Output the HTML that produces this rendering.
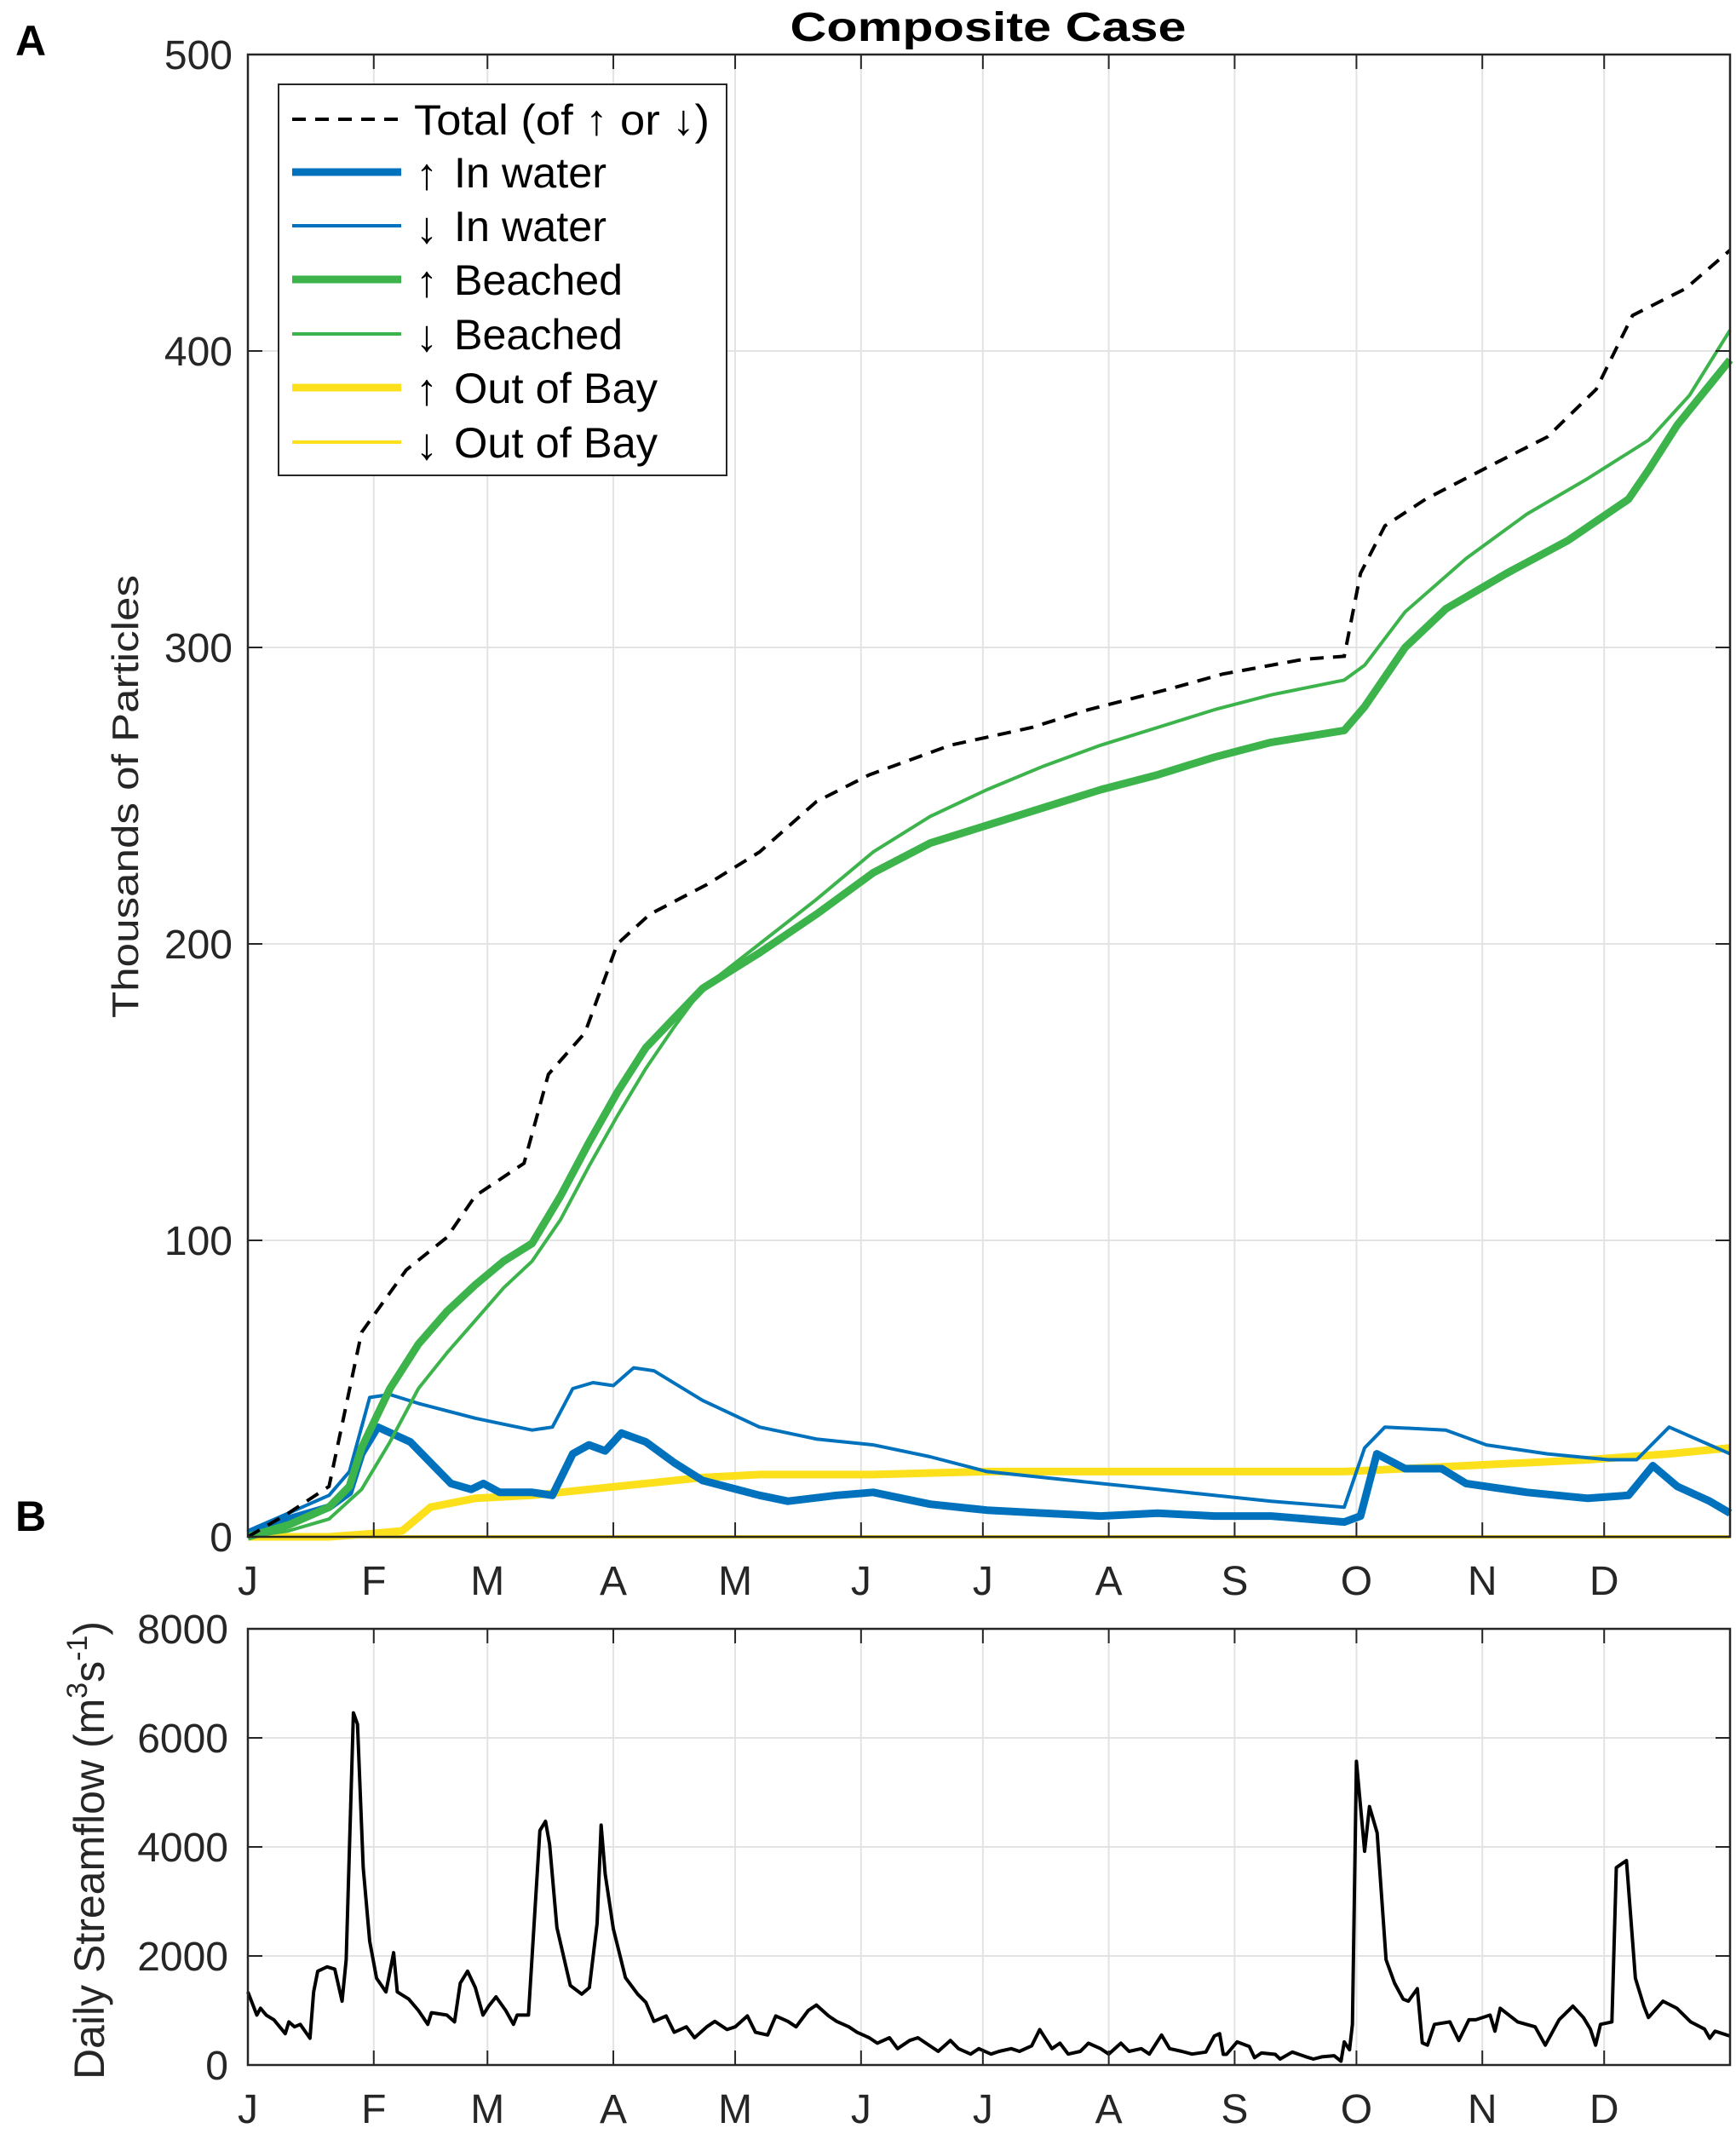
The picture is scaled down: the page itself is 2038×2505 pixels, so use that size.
<!DOCTYPE html>
<html><head><meta charset="utf-8"><style>
html,body{margin:0;padding:0;background:#fff;}
svg text{font-family:"Liberation Sans",sans-serif;}
</style></head><body>
<svg id="chart" xmlns="http://www.w3.org/2000/svg" width="2038" height="2500" viewBox="0 0 2038 2500">
<rect width="2038" height="2500" fill="#fff"/>
<g id="gridA"></g>
<g id="gridB"></g>
<g id="seriesA"></g>
<g id="seriesB"></g>
<g id="axesA"></g>
<g id="axesB"></g>
<text x="1160" y="48" text-anchor="middle" font-size="48" font-weight="bold" textLength="465" lengthAdjust="spacingAndGlyphs">Composite Case</text>
<text x="18" y="65" font-size="50" font-weight="bold">A</text>
<text x="18" y="1797" font-size="50" font-weight="bold">B</text>
<text transform="translate(162,935) rotate(-90)" text-anchor="middle" font-size="44" fill="#262626" textLength="520" lengthAdjust="spacingAndGlyphs">Thousands of Particles</text>
<text transform="translate(122,2172) rotate(-90)" text-anchor="middle" font-size="50" fill="#262626">Daily Streamflow (m<tspan dy="-20" font-size="34">3</tspan><tspan dy="20">s</tspan><tspan dy="-20" font-size="34">-1</tspan><tspan dy="20">)</tspan></text>
<g id="legend"></g>
</svg>
<script>
// ---- data (day of year, value) ----
const totalDays=[0,10,20,28,39,49,56,68,74,83,91,99,113,126,140,153,173,193,207,227,240,260,270,274,280,290,307,320,332,341,354,365];
const totalVals=[0,8,17,69,90,101,115,126,156,170,200,210,220,231,248,257,267,273,279,286,291,296,297,325,341,350,362,371,387,412,421,434];
const beachUpDays=[0,10,20,25,28,35,42,49,56,63,70,77,84,91,98,105,112,126,140,154,168,182,196,210,224,238,252,270,275,285,295,310,325,340,345,352,365];
const beachUpVals=[0,4,10,17,30,50,65,76,85,93,99,115,133,150,165,175,185,197,210,224,234,240,246,252,257,263,268,272,280,300,313,325,336,350,360,375,397];
const beachDnDays=[0,10,20,28,35,42,49,56,63,70,77,84,91,98,105,112,126,140,154,168,182,196,210,224,238,252,270,275,285,300,315,330,345,355,365];
const beachDnVals=[0,2,6,16,32,50,62,73,84,93,107,125,142,158,172,185,200,215,231,243,252,260,267,273,279,284,289,294,312,330,345,357,370,385,407];
const waterDnDays=[0,10,20,25,30,35,42,56,63,70,75,80,85,90,95,100,112,126,140,154,168,182,196,210,224,238,252,270,275,280,295,305,320,335,342,350,365];
const waterDnVals=[2,8,14,22,47,48,45,40,38,36,37,50,52,51,57,56,46,37,33,31,27,22,20,18,16,14,12,10,30,37,36,31,28,26,26,37,28];
const waterUpDays=[0,10,20,25,28,32,40,50,55,58,62,70,75,80,84,88,92,98,105,112,126,133,145,154,168,182,196,210,224,238,252,270,274,278,285,294,300,315,330,340,346,352,360,365];
const waterUpVals=[1,6,10,15,28,37,32,18,16,18,15,15,14,28,31,29,35,32,25,19,14,12,14,15,11,9,8,7,8,7,7,5,7,28,23,23,18,15,13,14,24,17,12,8];
const bayUpDays=[0,20,30,38,45,56,70,84,98,112,126,154,182,240,270,300,330,350,365];
const bayUpVals=[0,0,1,2,10,13,14,16,18,20,21,21,22,22,22,24,26,28,30];
const bayDnDays=[0,365];
const bayDnVals=[0,0];
const flowDays=[0,2.2,3.1,4.5,6.4,9.2,10.1,11.5,12.9,15.3,16.2,17.2,19.5,21.4,23.2,24.2,26,27,28.4,30,31.7,34,35.9,36.8,39.6,42,44.3,45.2,49,50.9,52.3,54.1,56,57.9,59.3,61.1,63.5,65.4,66.3,69.1,71.9,73.3,74.3,76.1,79.4,82.2,84.1,86,87,88,90,93,96,98,100,103,105,108,110,113,115,118,120,123,125,128,130,133,135,138,140,143,145,148,150,153,155,158,160,163,165,168,170,173,175,178,180,183,185,188,190,193,195,198,200,202,205,207,210,212,215,217,220,222,225,227,230,232.5,235.9,238,239.3,240.2,241,243.6,246.6,247.9,249.6,253,254.2,257.2,260.6,262.4,264.5,267.5,269.2,270,271.3,272,273,275,276.2,278.1,280.3,282.4,284.5,285.8,288,289.2,290.5,292.2,296,298.2,300.7,302.4,305.9,307.1,308.4,312.7,317,319.5,322.9,326.3,328.9,330.6,331.9,333.1,335.9,337,339.5,341.7,343.8,344.9,348.5,351.9,355.3,358.7,360,361.3,364.9];
const flowVals=[1340,915,1040,915,830,575,790,700,745,490,1340,1720,1800,1760,1170,1930,6460,6250,3620,2270,1590,1340,2060,1340,1210,1000,745,960,915,790,1500,1720,1420,915,1080,1250,1000,745,915,915,4300,4470,4050,2520,1460,1300,1420,2600,4400,3500,2500,1600,1300,1150,800,900,600,700,500,700,800,650,700,900,600,550,900,800,700,1000,1100,900,800,700,600,500,400,500,300,450,500,350,250,450,300,200,300,200,250,300,250,350,650,300,400,200,250,400,300,200,400,250,300,200,550,300,250,200,237,533,575,195,195,423,340,135,220,195,110,237,150,110,150,170,70,423,280,745,5570,3920,4740,4260,1930,1500,1210,1170,1400,406,364,745,790,450,830,830,915,620,1040,790,700,364,830,1080,870,660,364,745,790,3620,3750,1590,1080,870,1170,1040,790,660,490,620,533,406];
const monthLabels=['J','F','M','A','M','J','J','A','S','O','N','D'];
const yTicksA=[0,100,200,300,400,500];
const yTicksB=[0,2000,4000,6000,8000];
const legendArrows=['','\u2191','\u2193','\u2191','\u2193','\u2191','\u2193'];
const legendLabels=['Total (of \u2191 or \u2193)','In water','In water','Beached','Beached','Out of Bay','Out of Bay'];

const NS='http://www.w3.org/2000/svg';
const X0=291,X1=2031;
const A_TOP=64,A_BOT=1804,B_TOP=1912,B_BOT=2424;
function xs(d){return X0+d/365*(X1-X0);}
function yA(v){return A_BOT-v/500*(A_BOT-A_TOP);}
function yB(v){return B_BOT-v/8000*(B_BOT-B_TOP);}
const monthStart=[0,31,59,90,120,151,181,212,243,273,304,334];
function mk(tag,parent,attrs){const e=document.createElementNS(NS,tag);for(const k in attrs)e.setAttribute(k,attrs[k]);parent.appendChild(e);return e;}

function drawPanel(gridId,axesId,top,bot,yTicks,yfn,fmt,labX){
  const g=document.getElementById(gridId),ax=document.getElementById(axesId);
  monthStart.forEach((d,i)=>{
    if(i>0){const l=mk('line',g,{x1:xs(d),x2:xs(d),y1:top,y2:bot,stroke:'#e3e3e3','stroke-width':2});
      
      }
    const t1=mk('line',ax,{x1:xs(d),x2:xs(d),y1:bot,y2:bot-17,stroke:'#262626','stroke-width':2});
    
    
    const t2=mk('line',ax,{x1:xs(d),x2:xs(d),y1:top,y2:top+17,stroke:'#262626','stroke-width':2});
    
    
    const tx=mk('text',ax,{x:xs(d),y:bot+68,'text-anchor':'middle','font-size':48,fill:'#262626'});
    tx.textContent=monthLabels[i];
    
    
  });
  yTicks.forEach(v=>{
    const y=yfn(v);
    if(v>yTicks[0]&&v<yTicks[yTicks.length-1]){const l=mk('line',g,{x1:X0,x2:X1,y1:y,y2:y,stroke:'#e3e3e3','stroke-width':2});
      
      }
    const t=mk('line',ax,{x1:X0,x2:X0+17,y1:y,y2:y,stroke:'#262626','stroke-width':2});
    
    
    const t2=mk('line',ax,{x1:X1,x2:X1-17,y1:y,y2:y,stroke:'#262626','stroke-width':2});
    
    
    const tx=mk('text',ax,{x:labX,y:y+17,'text-anchor':'end','font-size':48,fill:'#262626'});
    tx.textContent=fmt(v);
    
    
  });
  const box=mk('rect',ax,{x:X0,y:top,width:X1-X0,height:bot-top,fill:'none',stroke:'#262626','stroke-width':2.5});
  
  
}
drawPanel('gridA','axesA',A_TOP,A_BOT,yTicksA,yA,v=>String(v),273);
drawPanel('gridB','axesB',B_TOP,B_BOT,yTicksB,yB,v=>String(v),268);

function path(days,vals,yfn){return days.map((d,i)=>(i?'L':'M')+xs(d).toFixed(1)+','+yfn(vals[i]).toFixed(1)).join(' ');}
const sA=document.getElementById('seriesA');
const COL_B='#0072bd',COL_G='#3cb44b',COL_Y='#fce01b';
const p1=mk('path',sA,{d:path(bayDnDays,bayDnVals,yA),fill:'none',stroke:COL_Y,'stroke-width':4});


const p2=mk('path',sA,{d:path(bayUpDays,bayUpVals,yA),fill:'none',stroke:COL_Y,'stroke-width':9,'stroke-linejoin':'round'});


const p3=mk('path',sA,{d:path(waterDnDays,waterDnVals,yA),fill:'none',stroke:COL_B,'stroke-width':4,'stroke-linejoin':'round'});


const p4=mk('path',sA,{d:path(waterUpDays,waterUpVals,yA),fill:'none',stroke:COL_B,'stroke-width':9,'stroke-linejoin':'round'});


const p5=mk('path',sA,{d:path(beachDnDays,beachDnVals,yA),fill:'none',stroke:COL_G,'stroke-width':4,'stroke-linejoin':'round'});


const p6=mk('path',sA,{d:path(beachUpDays,beachUpVals,yA),fill:'none',stroke:COL_G,'stroke-width':9,'stroke-linejoin':'round'});


const p7=mk('path',sA,{d:path(totalDays,totalVals,yA),fill:'none',stroke:'#000','stroke-width':4,'stroke-dasharray':'16 11'});


const sB=document.getElementById('seriesB');
const p8=mk('path',sB,{d:path(flowDays,flowVals,yB),fill:'none',stroke:'#000','stroke-width':4,'stroke-linejoin':'round'});



// legend
const lg=document.getElementById('legend');
const lb=mk('rect',lg,{x:327,y:99,width:526,height:459,fill:'#fff',stroke:'#262626','stroke-width':2});


const lstyle=[['#000',4,'16 11'],[COL_B,9,''],[COL_B,4,''],[COL_G,9,''],[COL_G,4,''],[COL_Y,9,''],[COL_Y,4,'']];
const rowY=[140,202,265,328,392,455,519];
const tLen=[347,179,179,198,198,239,239];
legendLabels.forEach((lab,i)=>{
  const ln=mk('line',lg,{x1:343,x2:471,y1:rowY[i],y2:rowY[i],stroke:lstyle[i][0],'stroke-width':lstyle[i][1]});
  if(lstyle[i][2])ln.setAttribute('stroke-dasharray',lstyle[i][2]);
  
  
  if(legendArrows[i]){
    const ar=mk('text',lg,{x:501,y:rowY[i]+20,'text-anchor':'middle','font-size':52,'font-family':'DejaVu Sans, sans-serif',fill:'#000'});
    ar.textContent=legendArrows[i];
    
    
  }
  const tx=mk('text',lg,{x:i?533:486,y:rowY[i]+18,'font-size':50,fill:'#000',textLength:tLen[i],lengthAdjust:'spacingAndGlyphs'});
  tx.textContent=lab;
  
  
});
</script>
</body></html>
